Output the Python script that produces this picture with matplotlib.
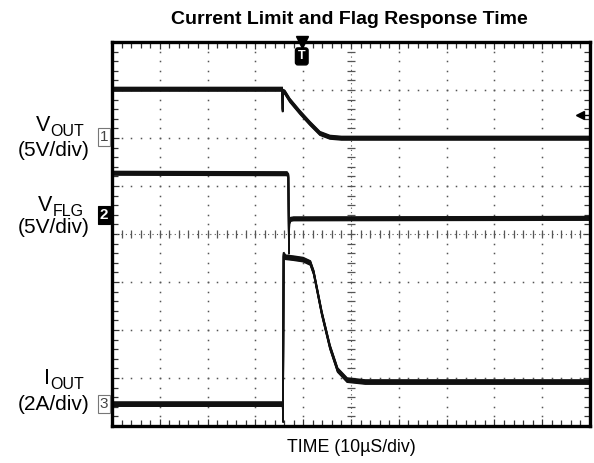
import numpy as np
import matplotlib
matplotlib.use("Agg")
import matplotlib.pyplot as plt
import matplotlib.transforms as mtransforms
from matplotlib.ticker import MultipleLocator

plt.rcParams['font.family'] = ['Liberation Sans', 'DejaVu Sans']

# ---- data (screen divisions: x 0..10, y 0..8) ----
vout_x = [0.0, 3.56, 3.57, 3.58, 3.62, 3.72, 3.93, 4.14, 4.35, 4.56, 4.80, 10.0]
vout_y = [7.02, 7.02, 6.58, 6.98, 6.95, 6.79, 6.54, 6.31, 6.10, 6.02, 6.00, 6.00]

vflg_x = [0.0, 3.66, 3.69, 3.70, 3.71, 3.74, 3.80, 10.0]
vflg_y = [5.27, 5.26, 5.22, 3.62, 4.25, 4.31, 4.32, 4.33]

iout_x = [0.0, 3.57, 3.58, 3.59, 3.63, 3.80, 4.00, 4.15, 4.22, 4.39, 4.56, 4.72, 4.92, 5.30, 10.0]
iout_y = [0.46, 0.46, 0.12, 3.58, 3.52, 3.50, 3.47, 3.40, 3.20, 2.35, 1.65, 1.17, 0.96, 0.92, 0.92]

ch_levels = [6.02, 4.40, 0.46]        # channel ground markers
ch_names = ['1', '2', '3']
trig_x = 3.97
trig_level = 6.48

label_letter = ['V', 'V', 'I']
label_sub = ['OUT', 'FLG', 'OUT']
label_scale = ['(5V/div)', '(5V/div)', '(2A/div)']
label_sub_y = [6.04, 4.375, 0.77]
label_scale_y = [5.74, 4.135, 0.45]

title = 'Current Limit and Flag Response Time'
xlabel = 'TIME (10\u00b5S/div)'

# ---- figure ----
W, H = 594, 463
fig = plt.figure(figsize=(W / 100, H / 100), dpi=100)
ax = fig.add_axes([112 / W, 1 - 426 / H, (590 - 112) / W, (426 - 42) / H])
ax.set_xlim(0, 10)
ax.set_ylim(0, 8)
for s in ax.spines.values():
    s.set_linewidth(2.4)
    s.set_color('black')
ax.xaxis.set_major_locator(MultipleLocator(1))
ax.yaxis.set_major_locator(MultipleLocator(1))
ax.xaxis.set_minor_locator(MultipleLocator(0.2))
ax.yaxis.set_minor_locator(MultipleLocator(0.2))
ax.tick_params(which='both', direction='in', top=True, right=True,
               labelbottom=False, labelleft=False, color='#333')
ax.tick_params(which='major', length=5, width=0.9)
ax.tick_params(which='minor', length=4, width=0.9)

gc = '#555555'
fine = np.arange(0.2, 8.0, 0.2)
finex = np.arange(0.2, 10.0, 0.2)
for gx in range(1, 10):
    if gx == 5:
        continue
    ax.plot([gx] * len(fine), fine, ls='none', marker='s', ms=1.1, color=gc, mew=0)
for gy in range(1, 8):
    if gy == 4:
        continue
    ax.plot(finex, [gy] * len(finex), ls='none', marker='s', ms=1.1, color=gc, mew=0)
# centre graticule
ax.plot([5, 5], [0, 8], ls=(0, (1, 3)), lw=0.8, color=gc)
ax.plot([0, 10], [4, 4], ls=(0, (1, 3)), lw=0.8, color=gc)
ax.plot([5] * len(fine), fine, ls='none', marker='_', ms=6, mew=0.9, color=gc)
ax.plot(finex, [4] * len(finex), ls='none', marker='|', ms=6, mew=0.9, color=gc)

# ---- traces: drawn with vertical jitter thickness ----
def trace(x, y, half=1.8):
    for off in np.arange(-half, half + 0.01, 0.6):
        tr = mtransforms.offset_copy(ax.transData, fig=fig, x=0, y=off, units='dots')
        ax.plot(x, y, color='#111111', lw=1.1, transform=tr, solid_joinstyle='miter')

trace(vout_x, vout_y, 2.0)
trace(vflg_x, vflg_y, 2.0)
trace(iout_x, iout_y, 2.3)

# ---- channel markers ----
for lvl, nm in zip(ch_levels, ch_names):
    filled = nm == '2'
    ax.text(-0.08, lvl, nm, ha='right', va='center', fontsize=11,
            fontweight='bold' if filled else 'normal',
            color='white' if filled else '#444',
            bbox=dict(boxstyle='square,pad=0.12', fc='black' if filled else 'white',
                      ec='black' if filled else '#777', lw=0.8),
            clip_on=False)

# left labels
for let, sub, sy, sc, scy in zip(label_letter, label_sub, label_sub_y,
                                 label_scale, label_scale_y):
    st = ax.text(-0.58, sy, sub, ha='right', va='baseline', fontsize=11.5, clip_on=False)
    ax.annotate(let, xy=(0, 0), xycoords=st, xytext=(-0.3, 2.2),
                textcoords='offset points', ha='right', va='bottom', fontsize=15.5)
    ax.text(-0.47, scy, sc, ha='right', va='center', fontsize=15, clip_on=False)

# trigger position marker
ax.plot([trig_x], [8.0], marker='v', ms=8, color='black', clip_on=False)
ax.text(trig_x, 7.7, 'T', ha='center', va='center', fontsize=9, color='white',
        fontweight='bold', bbox=dict(boxstyle='round,pad=0.2', fc='black', ec='black'))
# trigger level marker
ax.plot([9.8, 10.0], [trig_level, trig_level], color='black', lw=1)
ax.plot([9.8], [trig_level], marker='<', ms=6, color='black')

fig.text(349 / W, 1 - 19 / H, title, ha='center', va='center', fontsize=14,
         fontweight='bold')
fig.text(351 / W, 1 - 447 / H, xlabel, ha='center', va='center', fontsize=12.8)

fig.savefig('out.png', dpi=100, facecolor='white')
